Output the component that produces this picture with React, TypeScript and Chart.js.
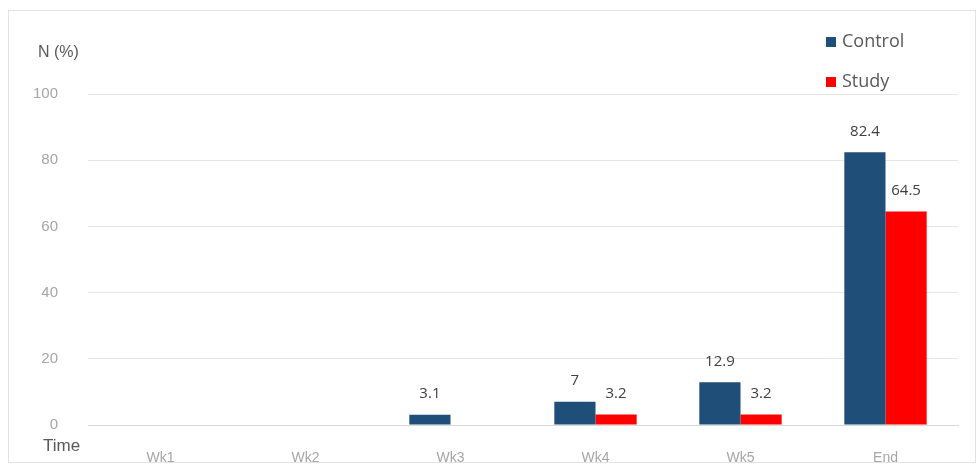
import React, { useEffect, useRef } from "react";
import { Chart, registerables } from "chart.js";

Chart.register(...registerables);

const categories = ["Wk1", "Wk2", "Wk3", "Wk4", "Wk5", "End"];
const controlValues: (number | null)[] = [null, null, 3.1, 7, 12.9, 82.4];
const studyValues: (number | null)[] = [null, null, null, 3.2, 3.2, 64.5];
const seriesNames = ["Control", "Study"];
const seriesColors = ["#1F4E79", "#FF0000"];
const yTicks = [0, 20, 40, 60, 80, 100];
const yAxisTitle = "N (%)";
const xAxisTitle = "Time";

const W = 977;
const H = 469;

const decor = {
  id: "decor",
  beforeDraw(chart: any) {
    const ctx = chart.ctx;
    ctx.save();
    ctx.fillStyle = "#ffffff";
    ctx.fillRect(0, 0, W, H);
    ctx.strokeStyle = "#e3e3e3";
    ctx.lineWidth = 1;
    ctx.strokeRect(8.5, 10.5, 967, 452);
    ctx.restore();
  },
  afterDatasetsDraw(chart: any) {
    const ctx = chart.ctx;
    ctx.save();
    // data labels
    ctx.font = '15px "Open Sans", "Liberation Sans", sans-serif';
    ctx.fillStyle = "#404040";
    ctx.textAlign = "center";
    ctx.textBaseline = "middle";
    chart.data.datasets.forEach((ds: any, di: number) => {
      const meta = chart.getDatasetMeta(di);
      meta.data.forEach((bar: any, i: number) => {
        const v = ds.data[i];
        if (v === null || v === undefined) return;
        ctx.fillText(String(v), bar.x, bar.y - 21);
      });
    });
    // axis titles
    ctx.fillStyle = "#595959";
    ctx.textAlign = "left";
    ctx.font = '16px "Liberation Sans", Arial, sans-serif';
    ctx.fillText(yAxisTitle, 38, 53);
    ctx.font = '17px "Liberation Sans", Arial, sans-serif';
    ctx.fillText(xAxisTitle, 43, 446);
    // legend
    ctx.font = '18px "Open Sans", "Liberation Sans", sans-serif';
    seriesNames.forEach((name, i) => {
      const y = 42 + i * 40;
      ctx.fillStyle = seriesColors[i];
      ctx.fillRect(826, y - 5, 10, 10);
      ctx.fillStyle = "#595959";
      ctx.fillText(name, 842, y);
    });
    ctx.restore();
  },
};

export default function App() {
  const ref = useRef<HTMLCanvasElement>(null);
  useEffect(() => {
    if (!ref.current) return;
    const chart = new Chart(ref.current, {
      type: "bar",
      data: {
        labels: categories,
        datasets: [
          {
            label: seriesNames[0],
            data: controlValues,
            backgroundColor: seriesColors[0],
            categoryPercentage: 0.568,
            barPercentage: 1,
          },
          {
            label: seriesNames[1],
            data: studyValues,
            backgroundColor: seriesColors[1],
            categoryPercentage: 0.568,
            barPercentage: 1,
          },
        ],
      },
      options: {
        animation: false,
        responsive: false,
        devicePixelRatio: 1,
        layout: { padding: { left: 0, top: 94, right: 19, bottom: 0 } },
        plugins: {
          legend: { display: false },
          tooltip: { enabled: false },
          title: { display: false },
        },
        scales: {
          x: {
            grid: { display: false, drawTicks: false },
            border: { display: true, color: "#d9d9d9" },
            ticks: {
              padding: 25,
              color: "#a6a6a6",
              font: { family: '"Liberation Sans", Arial, sans-serif', size: 14 },
            },
            afterFit: (s: any) => {
              s.height = 44;
            },
          },
          y: {
            min: 0,
            max: 100,
            afterBuildTicks: (s: any) => {
              s.ticks = yTicks.map((v) => ({ value: v }));
            },
            grid: { color: "#e6e6e6", drawTicks: false },
            border: { display: false },
            ticks: {
              padding: 30,
              color: "#a6a6a6",
              font: { family: '"Liberation Sans", Arial, sans-serif', size: 15 },
            },
            afterFit: (s: any) => {
              s.width = 88;
            },
          },
        },
      },
      plugins: [decor],
    });
    return () => chart.destroy();
  }, []);
  return (
    <div style={{ position: "absolute", left: 0, top: 0, width: W, height: H }}>
      <canvas ref={ref} width={W} height={H} style={{ width: W, height: H, display: "block" }} />
    </div>
  );
}
